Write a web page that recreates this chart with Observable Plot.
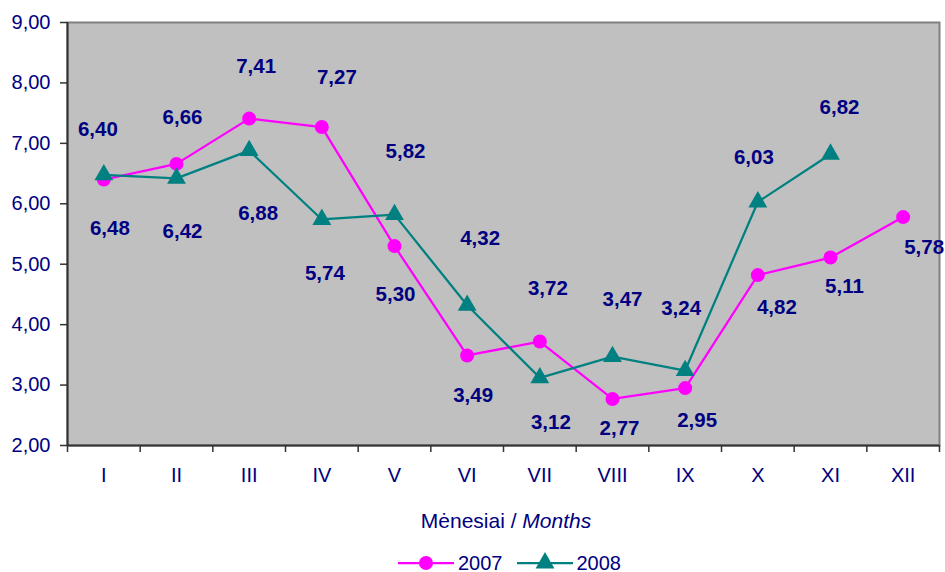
<!DOCTYPE html>
<html>
<head>
<meta charset="utf-8">
<script src="https://cdn.jsdelivr.net/npm/d3@7"></script>
<script src="https://cdn.jsdelivr.net/npm/@observablehq/plot@0.6"></script>
<style>
  body { margin: 0; background: #fff; font-family: Arial, "Liberation Sans", sans-serif; }
  #wrap { position: relative; width: 945px; height: 572px; }
  #legend { position: absolute; left: 398px; top: 548px; height: 30px; display: flex; align-items: center; color: #000080; font-size: 20px; }
  #legend .item { display: flex; align-items: center; }
  #legend svg { display: block; }
</style>
</head>
<body>
<div id="wrap">
  <div id="chart"></div>
  <div id="legend"></div>
</div>
<script>
// ---- data ----
const months = ["I", "II", "III", "IV", "V", "VI", "VII", "VIII", "IX", "X", "XI", "XII"];
const series = ["2007", "2008"];
const values2007 = [6.40, 6.66, 7.41, 7.27, 5.30, 3.49, 3.72, 2.77, 2.95, 4.82, 5.11, 5.78];
const values2008 = [6.48, 6.42, 6.88, 5.74, 5.82, 4.32, 3.12, 3.47, 3.24, 6.03, 6.82];
const yTicks = [2, 3, 4, 5, 6, 7, 8, 9];
// label offsets (px) relative to each point, as placed in the original
const labelOffsets2007 = [[-6,-50],[6,-46],[7,-52],[15,-50],[1,48],[6,40],[8,-53],[7,29],[12,32],[19,32],[14,29],[21,30]];
const labelOffsets2008 = [[6,54],[6,53],[9,63],[3,54],[11,-63],[13,-67],[11,45],[10,-57],[-4,-62],[-4,-45],[9,-47]];

const colors = {"2007": "#ff00ff", "2008": "#008080"};
const navy = "#000080";
const fmt = v => v.toFixed(2).replace(".", ",");

const d2007 = values2007.map((v, i) => ({x: i + 0.5, v, off: labelOffsets2007[i]}));
const d2008 = values2008.map((v, i) => ({x: i + 0.5, v, off: labelOffsets2008[i]}));

const labelMarks = [...d2007, ...d2008].map(d =>
  Plot.text([d], {x: "x", y: "v", text: d => fmt(d.v), dx: d.off[0], dy: d.off[1],
    fill: navy, fontWeight: "bold", fontSize: 20.5}));

const W = 945, H = 548, mL = 67, mR = 6, mT = 22, mB = 103;

const chart = Plot.plot({
  width: W, height: H,
  marginLeft: mL, marginRight: mR, marginTop: mT, marginBottom: mB,
  x: {domain: [0, months.length], label: null},
  y: {domain: [2, 9], label: null},
  style: {fontFamily: 'Arial, "Liberation Sans", sans-serif', color: navy, background: "#fff", overflow: "visible"},
  marks: [
    Plot.frame({fill: "#c0c0c0", stroke: "#808080", strokeWidth: 2}),
    Plot.ruleX([0], {stroke: "#333", strokeWidth: 2}),
    Plot.ruleY([2], {stroke: "#333", strokeWidth: 2}),
    Plot.axisY({ticks: yTicks, tickFormat: fmt, tickSize: 7, tickPadding: 10, fontSize: 20, stroke: "#333", fill: navy, strokeWidth: 1.5}),
    Plot.axisX({ticks: d3.range(months.length + 1), tickSize: 7, tickFormat: () => "", stroke: "#333", strokeWidth: 1.5}),
    Plot.axisX({ticks: months.map((m, i) => i + 0.5), tickSize: 0, tickPadding: 22, tickFormat: d => months[Math.floor(d)], fontSize: 20, fill: navy}),
    Plot.line(d2007, {x: "x", y: "v", stroke: colors["2007"], strokeWidth: 2.25}),
    Plot.dot(d2007, {x: "x", y: "v", r: 7, fill: colors["2007"], stroke: null}),
    Plot.line(d2008, {x: "x", y: "v", stroke: colors["2008"], strokeWidth: 2.25}),
    Plot.dot(d2008, {x: "x", y: "v", r: 7, symbol: "triangle", fill: colors["2008"], stroke: null}),
    ...labelMarks
  ]
});
document.getElementById("chart").appendChild(chart);

// axis title with mixed styles
const svg = d3.select(chart);
const t = svg.append("text")
  .attr("x", mL + (W - mL - mR) / 2 + 3)
  .attr("y", H - mB + 83)
  .attr("text-anchor", "middle")
  .attr("fill", navy)
  .attr("font-size", 21);
t.append("tspan").text("Mėnesiai / ");
t.append("tspan").attr("font-style", "italic").text("Months");

// legend
const legend = d3.select("#legend");
series.forEach((s, i) => {
  const item = legend.append("div").attr("class", "item").style("margin-right", i === 0 ? "14px" : "0");
  const sw = item.append("svg").attr("width", 56).attr("height", 30);
  sw.append("line").attr("x1", 0).attr("x2", 56).attr("y1", 15).attr("y2", 15)
    .attr("stroke", colors[s]).attr("stroke-width", 2.25);
  if (s === "2007") {
    sw.append("circle").attr("cx", 28).attr("cy", 15).attr("r", 7).attr("fill", colors[s]);
  } else {
    sw.append("path").attr("transform", "translate(28,15)")
      .attr("d", d3.symbol(d3.symbolTriangle, 7 * 7 * Math.PI)()).attr("fill", colors[s]);
  }
  item.append("span").style("margin-left", "4px").text(s);
});
</script>
</body>
</html>
